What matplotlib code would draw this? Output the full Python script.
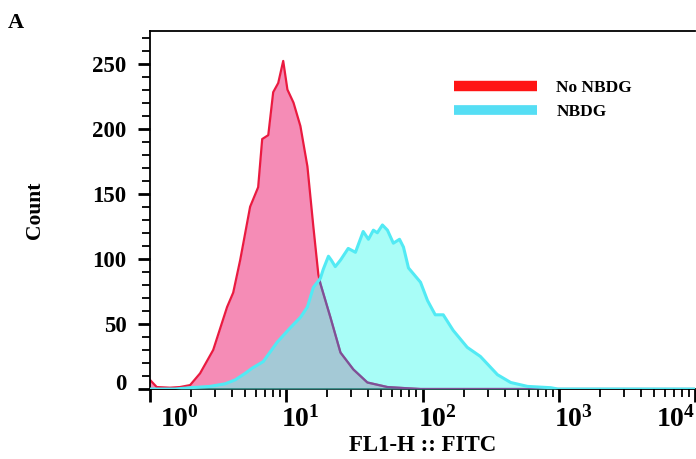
import matplotlib
matplotlib.use("Agg")
import matplotlib.pyplot as plt
import matplotlib.transforms as mtransforms
from matplotlib.lines import Line2D
from matplotlib.ticker import FixedLocator, MultipleLocator, NullFormatter

# FL1-H (FITC) intensity vs count
no_nbdg_x = [1.0, 1.12, 1.40, 1.66, 1.97, 2.33, 2.91, 3.68, 4.08, 4.59, 5.43, 6.22,
             6.66, 7.38, 8.02, 8.73, 9.50, 10.2, 11.3, 12.7, 14.3, 15.8, 17.2, 17.8,
             21.1, 25.0, 31.1, 39.4, 55.3, 78.9, 96.7, 10000]
no_nbdg_y = [7, 1.5, 1, 1.5, 3, 12, 30, 63, 74, 99, 140, 155,
             192, 195, 228, 235, 252, 230, 220, 202, 171, 125, 88, 81,
             55, 28, 15, 5, 1.5, 0.5, 0, 0]

nbdg_x = [1.0, 1.53, 1.97, 2.76, 3.56, 4.22, 4.99, 5.62, 6.77, 8.59, 10.7, 12.7,
          14.3, 15.8, 17.8, 18.7, 20.4, 21.4, 22.9, 25.0, 28.5, 32.2, 36.7, 40.1,
          43.6, 46.6, 50.8, 55.3, 61.1, 67.8, 72.5, 78.9, 96.7, 108.8, 124.0, 142.0,
          168.0, 213.0, 266.0, 355.0, 444.0, 590.0, 873.0, 985.0, 10000]
nbdg_y = [0, 0, 1, 2, 4, 7, 12, 16, 21, 36, 47, 55,
          63, 78, 85, 92, 102, 99, 94, 99, 108, 105, 121, 115,
          122, 120, 126, 122, 112, 115, 109, 93, 82, 68, 57, 57,
          45, 32, 25, 11, 5, 2, 1, 0, 0]

x_ticks = [1, 10, 100, 1000, 10000]
x_labels = [r"$\mathbf{10^{0}}$", r"$\mathbf{10^{1}}$", r"$\mathbf{10^{2}}$",
            r"$\mathbf{10^{3}}$", r"$\mathbf{10^{4}}$"]
y_ticks = [0, 50, 100, 150, 200, 250]

plt.rcParams["font.family"] = "Liberation Serif"
plt.rcParams["font.weight"] = "bold"
plt.rcParams["mathtext.fontset"] = "custom"
plt.rcParams["mathtext.rm"] = "Liberation Serif:bold"
plt.rcParams["mathtext.bf"] = "Liberation Serif:bold"

red_line = "#ea1a40"
red_fill = "#f58cb6"
purple_line = "#7f4f98"
cyan_line = "#52eaf4"
cyan_fill = "#62fcf2"

fig = plt.figure(figsize=(6.96, 4.59), dpi=100)
ax = fig.add_axes([150 / 696, 1 - 389 / 459, 545 / 696, 358 / 459])

ax.fill_between(no_nbdg_x, no_nbdg_y, 0, color=red_fill, lw=0, zorder=1)
ax.plot(no_nbdg_x, no_nbdg_y, color=red_line, lw=1.6, zorder=2)
cy = ax.fill_between(nbdg_x, nbdg_y, 0, color=cyan_fill, alpha=0.55, lw=0, zorder=3)
# red outline seen through the cyan fill turns purple
under, = ax.plot(no_nbdg_x, no_nbdg_y, color=purple_line, lw=1.6, zorder=3.5)
under.set_clip_path(cy.get_paths()[0], transform=ax.transData)
ax.plot(nbdg_x, nbdg_y, color=cyan_line, lw=2.2, zorder=4)

ax.set_xscale("log")
ax.set_xlim(1, 10000)
ax.set_ylim(0, 275)

ax.xaxis.set_major_locator(FixedLocator(x_ticks))
ax.xaxis.set_minor_locator(FixedLocator([m * 10 ** d for d in range(4) for m in range(2, 10)]))
ax.xaxis.set_minor_formatter(NullFormatter())
ax.set_xticklabels(x_labels)
ax.set_yticks(y_ticks)
ax.yaxis.set_minor_locator(MultipleLocator(10))

ax.tick_params(axis="both", which="major", direction="out", length=9, width=2)
ax.tick_params(axis="both", which="minor", direction="out", length=6, width=1.3)
ax.tick_params(axis="x", which="major", pad=3, labelsize=20)
ax.tick_params(axis="y", which="major", pad=8, labelsize=16.5)

for s in ["left", "bottom", "top"]:
    ax.spines[s].set_linewidth(1.3)
ax.spines["right"].set_visible(False)

# FlowJo style label placement
offsets = [10, -5, -5, -5, 0]
for lab, dx in zip(ax.get_xticklabels(), offsets):
    if dx == 0:
        lab.set_horizontalalignment("right")
    else:
        lab.set_horizontalalignment("left")
    lab.set_transform(lab.get_transform() + mtransforms.ScaledTranslation(dx / 100, 0, fig.dpi_scale_trans))
ylabs = ax.get_yticklabels()
ylabs[0].set_transform(ylabs[0].get_transform() + mtransforms.ScaledTranslation(0, 7 / 100, fig.dpi_scale_trans))

ax.set_ylabel("Count", fontsize=15.5, fontweight="bold", labelpad=34)
ax.set_xlabel("FL1-H :: FITC", fontsize=16.5, fontweight="bold", labelpad=2)
fig.text(8 / 696, 1 - 28 / 459, "A", fontsize=16, fontweight="bold")

handles = [Line2D([], [], color="#ff1414", lw=7.5, solid_capstyle="butt"),
           Line2D([], [], color="#55def4", lw=7, solid_capstyle="butt")]
ax.legend(handles, ["No NBDG", "NBDG"], loc="upper left",
          bbox_to_anchor=((454 - 150) / 545, 1 - (80 - 31) / 358),
          frameon=False, fontsize=12.5, handlelength=4.8, handletextpad=1.1,
          labelspacing=0.45, borderpad=0, borderaxespad=0)

fig.savefig("out.png", dpi=100)
